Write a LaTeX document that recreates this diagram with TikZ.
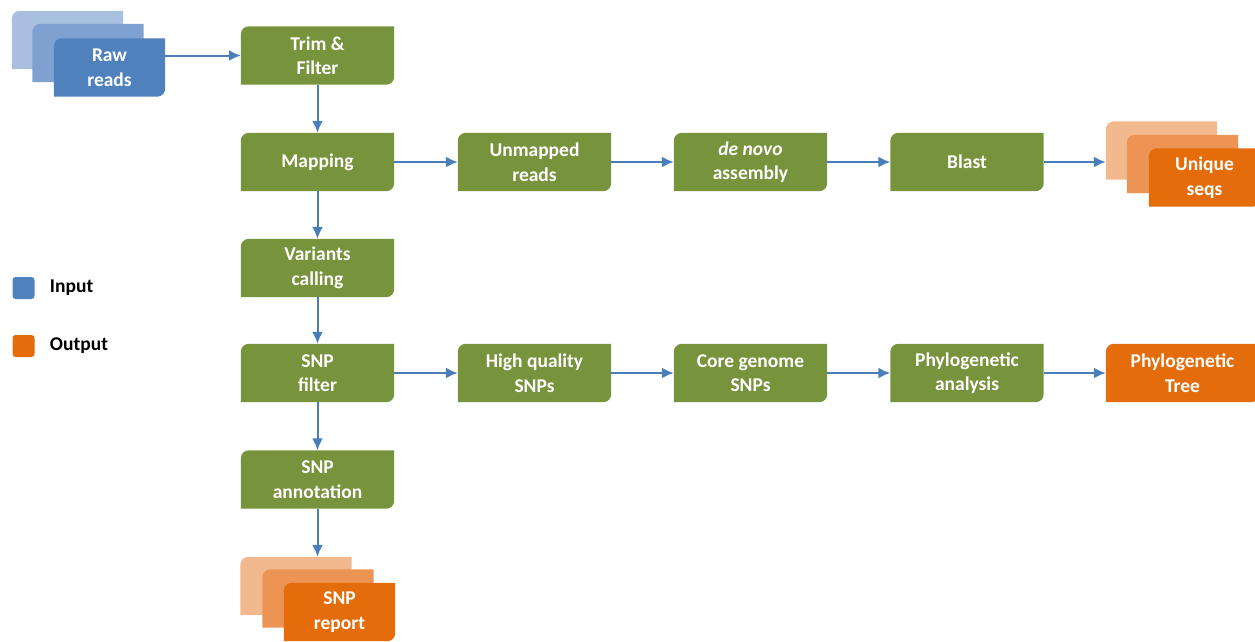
\documentclass[tikz,border=0pt]{standalone}
\usepackage{fontspec}
\setmainfont{Carlito}
\usetikzlibrary{arrows.meta,positioning,backgrounds}

\definecolor{stepgreen}{HTML}{77933C}
\definecolor{inblue}{HTML}{4F81BD}
\definecolor{inbluemid}{HTML}{7FA1D1}
\definecolor{inblueback}{HTML}{A8BFE0}
\definecolor{outorange}{HTML}{E46C0A}
\definecolor{outorangemid}{HTML}{EC9453}
\definecolor{outorangeback}{HTML}{F3B98E}
\definecolor{flowblue}{HTML}{4A7EBB}

% fill with only the top left and bottom right corners rounded
\newcommand{\diagfill}[2]{%
  \fill[#2] ([xshift=8pt]#1.north west) -- (#1.north east) -- ([yshift=8pt]#1.south east)
    arc[start angle=0,end angle=-90,radius=8pt] -- (#1.south west) -- ([yshift=-8pt]#1.north west)
    arc[start angle=180,end angle=90,radius=8pt] -- cycle;}

\tikzset{
  box/.style={minimum width=153pt,minimum height=58pt,inner sep=0pt,align=center,
    text=white,font=\bfseries\fontsize{19.5}{24.5}\selectfont},
  stack/.style={box,minimum width=111pt},
  arr/.style={draw=flowblue,line width=2pt,-{Latex[length=12pt,width=11pt]}},
  legbox/.style={minimum size=22pt,inner sep=0pt,rounded corners=3pt},
  legtext/.style={font=\bfseries\fontsize{19.5}{24}\selectfont,inner sep=0pt}
}

\begin{document}
\begin{tikzpicture}[x=1pt,y=-1pt]
        \useasboundingbox (0,0) rectangle (1255,641);

        % input
        \node[stack] (rawa) at (67.5,40) {};
        \node[stack] (rawb) at (88,53) {};
        \node[stack] (raw) at (109.5,67.5) {Raw\\reads};

        % main column
        \node[box] (trim) at (317.5,55.5) {Trim \&\\Filter};
        \node[box] (map) at (317.5,162) {Mapping};
        \node[box] (var) at (317.5,268) {Variants\\calling};
        \node[box] (snpf) at (317.5,373) {SNP\\filter};
        \node[box] (annot) at (317.5,479.5) {SNP\\annotation};
        \node[stack] (repa) at (296,586) {};
        \node[stack] (repb) at (318,598.5) {};
        \node[stack] (rep) at (339.5,612) {SNP\\report};

        % unmapped branch
        \node[box] (unmap) at (534.5,162) {Unmapped\\reads};
        \node[box] (denovo) at (750.5,162) {\textit{de novo}\\assembly};
        \node[box] (blast) at (967,162) {Blast};
        \node[stack] (uniqa) at (1161.5,150.5) {};
        \node[stack] (uniqb) at (1182.5,164) {};
        \node[stack] (uniq) at (1204.5,177.5) {Unique\\seqs};

        % snp branch
        \node[box] (hq) at (534.5,373) {High quality\\SNPs};
        \node[box] (core) at (750.5,373) {Core genome\\SNPs};
        \node[box] (phylo) at (967,373) {Phylogenetic\\analysis};
        \node[box] (tree) at (1182.5,373) {Phylogenetic\\Tree};

        % legend
        \node[legbox,fill=inblue] (legin) at (23.5,288) {};
        \node[legtext,anchor=west,right=15pt of legin] (intext) {Input};
        \node[legbox,fill=outorange] (legout) at (23.5,346) {};
        \node[legtext,anchor=west,right=15pt of legout] (outtext) {Output};

        \begin{scope}[on background layer]
          \foreach \n/\c in {rawa/inblueback,rawb/inbluemid,raw/inblue,
              trim/stepgreen,map/stepgreen,var/stepgreen,snpf/stepgreen,annot/stepgreen,
              repa/outorangeback,repb/outorangemid,rep/outorange,
              unmap/stepgreen,denovo/stepgreen,blast/stepgreen,
              uniqa/outorangeback,uniqb/outorangemid,uniq/outorange,
              hq/stepgreen,core/stepgreen,phylo/stepgreen,tree/outorange}
            \diagfill{\n}{\c};
        \end{scope}

        % connectors
        \draw[arr] (raw.east |- trim.west) -- (trim.west);
        \draw[arr] (trim) -- (map);
        \draw[arr] (map) -- (var);
        \draw[arr] (var) -- (snpf);
        \draw[arr] (snpf) -- (annot);
        \draw[arr] (annot.south) -- (annot.south |- repa.north);
        \draw[arr] (map) -- (unmap);
        \draw[arr] (unmap) -- (denovo);
        \draw[arr] (denovo) -- (blast);
        \draw[arr] (blast.east) -- (blast.east -| uniqa.west);
        \draw[arr] (snpf) -- (hq);
        \draw[arr] (hq) -- (core);
        \draw[arr] (core) -- (phylo);
        \draw[arr] (phylo) -- (tree);
      \end{tikzpicture}
\end{document}
